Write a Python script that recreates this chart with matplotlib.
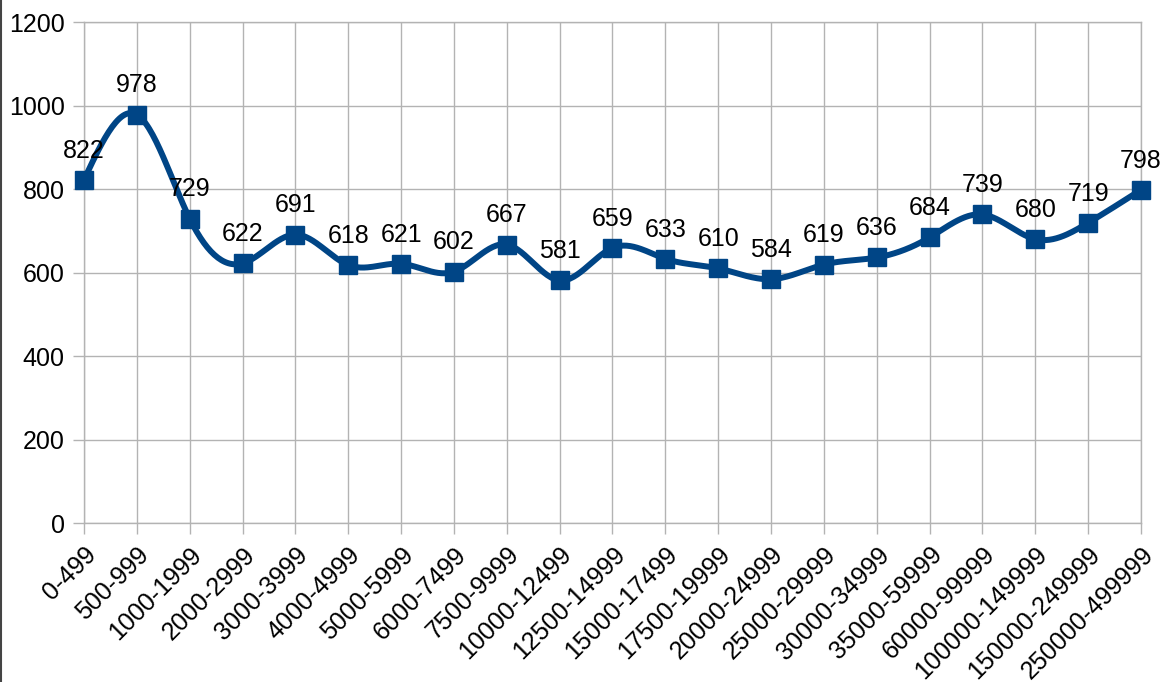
import matplotlib.pyplot as plt
import numpy as np

plt.rcParams['font.family'] = ['Liberation Sans', 'DejaVu Sans']

categories = ['0-499', '500-999', '1000-1999', '2000-2999', '3000-3999', '4000-4999',
              '5000-5999', '6000-7499', '7500-9999', '10000-12499', '12500-14999',
              '15000-17499', '17500-19999', '20000-24999', '25000-29999', '30000-34999',
              '35000-59999', '60000-99999', '100000-149999', '150000-249999', '250000-499999']
values = [822, 978, 729, 622, 691, 618, 621, 602, 667, 581, 659,
          633, 610, 584, 619, 636, 684, 739, 680, 719, 798]

BLUE = '#004586'
GRID = '#b3b3b3'
FS = 18


def natural_spline(x, y, steps=30):
    # plain natural cubic spline, solved by hand so no scipy is needed
    x = np.asarray(x, float)
    y = np.asarray(y, float)
    n = len(x)
    h = np.diff(x)
    A = np.zeros((n, n))
    b = np.zeros(n)
    A[0, 0] = A[-1, -1] = 1
    for i in range(1, n - 1):
        A[i, i - 1] = h[i - 1]
        A[i, i] = 2 * (h[i - 1] + h[i])
        A[i, i + 1] = h[i]
        b[i] = 3 * ((y[i + 1] - y[i]) / h[i] - (y[i] - y[i - 1]) / h[i - 1])
    c = np.linalg.solve(A, b)
    xs, ys = [], []
    for i in range(n - 1):
        bi = (y[i + 1] - y[i]) / h[i] - h[i] * (2 * c[i] + c[i + 1]) / 3
        di = (c[i + 1] - c[i]) / (3 * h[i])
        t = np.linspace(0, h[i], steps, endpoint=(i == n - 2))
        xs.append(x[i] + t)
        ys.append(y[i] + bi * t + c[i] * t ** 2 + di * t ** 3)
    return np.concatenate(xs), np.concatenate(ys)


fig = plt.figure(figsize=(11.65, 6.82), dpi=100)
ax = fig.add_axes([0.0721, 0.2331, 0.9073, 0.7346])

x = np.arange(len(values))
sx, sy = natural_spline(x, values)
ax.plot(sx, sy, color=BLUE, linewidth=4.3, solid_capstyle='round', zorder=3, clip_on=False)
ax.plot(x, values, linestyle='none', marker='s', markersize=13.5, color=BLUE, zorder=4,
        clip_on=False)

for xi, v in zip(x, values):
    ax.annotate(str(v), (xi, v), xytext=(0, 16), textcoords='offset points',
                ha='center', va='baseline', fontsize=FS, zorder=5)

ax.set_xlim(0, len(values) - 1)
ax.set_ylim(0, 1200)
ax.set_yticks(range(0, 1201, 200))
ax.set_xticks(x)
ax.set_xticklabels(categories, rotation=45, ha='right', rotation_mode='anchor')
ax.tick_params(axis='both', labelsize=FS, color=GRID, length=8, width=1)
ax.tick_params(axis='x', pad=6)
ax.tick_params(axis='y', pad=6)
ax.grid(True, color=GRID, linewidth=1)
ax.set_axisbelow(True)
for s in ax.spines.values():
    s.set_color(GRID)
    s.set_linewidth(1)

# left frame edge visible in the reference
fig.add_artist(plt.Line2D([0.001, 0.001], [0, 1], color='#444444', linewidth=1.5,
                          transform=fig.transFigure))

fig.savefig('out.png', dpi=100)
